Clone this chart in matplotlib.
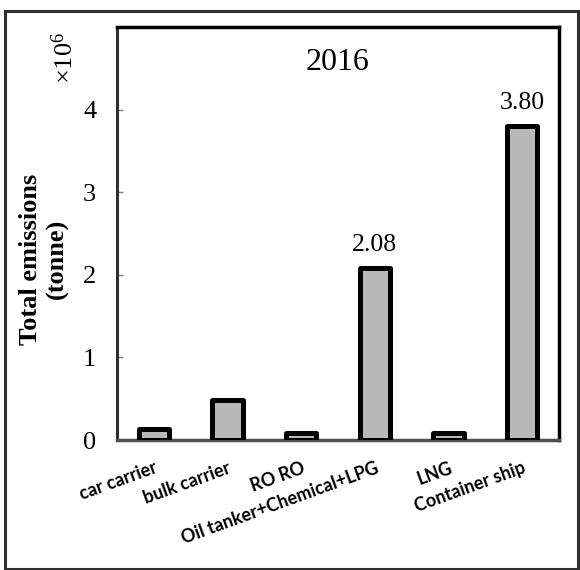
import numpy as np
import matplotlib.pyplot as plt
from matplotlib.patches import Rectangle

# ship categories and 2016 emissions (x10^6 tonne)
ship_types = ["car carrier", "bulk carrier", "RO RO",
              "Oil tanker+Chemical+LPG", "LNG", "Container ship"]
emissions = [0.13, 0.49, 0.09, 2.08, 0.08, 3.80]
labelled = [False, False, False, True, False, True]
year = "2016"

serif = "Liberation Serif"
plt.rcParams["mathtext.fontset"] = "custom"
plt.rcParams["mathtext.rm"] = serif

fig = plt.figure(figsize=(5.8, 5.7), dpi=100)
ax = fig.add_axes([0.2017, 0.228, 0.7621, 0.7246])

x = np.arange(len(ship_types))
bars = ax.bar(x, emissions, width=0.41, color="#b8b8b8", edgecolor="black",
              linewidth=3.6, joinstyle="round", zorder=3)

for rect, val, show in zip(bars, emissions, labelled):
    if show:
        ax.annotate(f"{val:.2f}", (rect.get_x() + rect.get_width() / 2, val),
                    xytext=(0, 17), textcoords="offset points",
                    ha="center", va="center", fontsize=18.5, family=serif)

ax.set_xlim(-0.5, len(ship_types) - 0.5)
ax.set_ylim(0, 5)
ax.set_yticks([0, 1, 2, 3, 4])
ax.set_yticklabels(["0", "1", "2", "3", "4"], fontsize=19, family=serif)
ax.tick_params(axis="y", direction="in", length=4, width=1, color="#808080", pad=15)

ax.set_xticks(x)
ax.set_xticklabels(ship_types, rotation=20, ha="right", rotation_mode="anchor",
                   fontsize=13, family="Lato", fontweight="bold")
ax.tick_params(axis="x", length=0, pad=14)

for side in ["top", "right"]:
    ax.spines[side].set_color("black")
    ax.spines[side].set_linewidth(2.5)
ax.spines["left"].set_color("#303030")
ax.spines["left"].set_linewidth(2.2)
ax.spines["bottom"].set_color("#505050")
ax.spines["bottom"].set_linewidth(2.5)

ax.text(0.5, 0.915, year, transform=ax.transAxes, ha="center", va="center",
        fontsize=23, family=serif)

fig.text(44 / 580, 1 - 259 / 570, "Total emissions\n(tonne)", rotation=90,
         ha="center", va="center", fontsize=19, family=serif,
         fontweight="bold", linespacing=1.2)

fig.text(66 / 580, 1 - 58 / 570, r"$\mathrm{\times 10^6}$", rotation=90,
         ha="center", va="center", fontsize=19)

# outer frame
fig.patches.append(Rectangle((5 / 580, 1 / 570), 573 / 580, 558 / 570,
                             transform=fig.transFigure, fill=False,
                             edgecolor="#303030", linewidth=2.2))

fig.savefig("out.png", dpi=100)
